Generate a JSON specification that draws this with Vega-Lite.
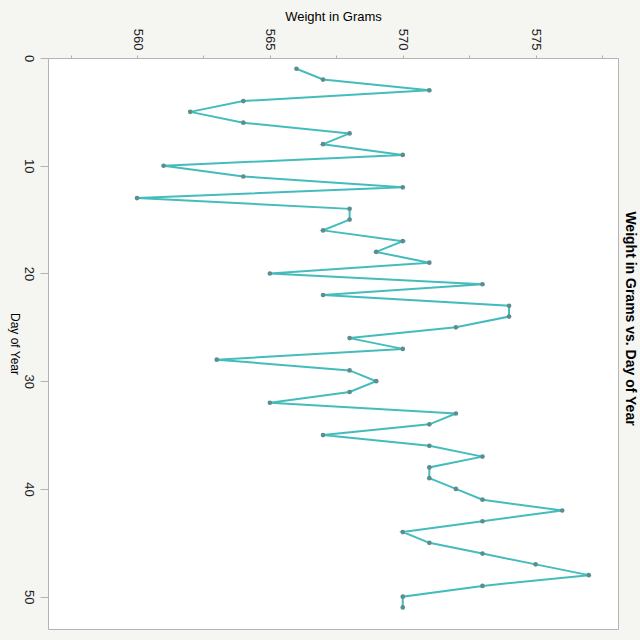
{
  "$schema": "https://vega.github.io/schema/vega-lite/v6.json",
  "autosize": {"type": "none"},
  "padding": {"left": 48, "top": 58, "right": 22, "bottom": 11},
  "width": 570,
  "height": 571,
  "background": "#f5f5f2",
  "title": {"text": "Weight in Grams vs. Day of Year", "orient": "right", "angle": 90, "anchor": "middle", "fontSize": 14, "fontWeight": "bold", "font": "Liberation Sans", "color": "#000000", "offset": 5, "dx": -25},
  "config": {
    "font": "Liberation Sans",
    "view": {"fill": "#ffffff", "stroke": "#b4b4b4", "strokeWidth": 1}
  },
  "data": {"values": [
    {"day": 1, "weight": 566}, {"day": 2, "weight": 567}, {"day": 3, "weight": 571},
    {"day": 4, "weight": 564}, {"day": 5, "weight": 562}, {"day": 6, "weight": 564},
    {"day": 7, "weight": 568}, {"day": 8, "weight": 567}, {"day": 9, "weight": 570},
    {"day": 10, "weight": 561}, {"day": 11, "weight": 564}, {"day": 12, "weight": 570},
    {"day": 13, "weight": 560}, {"day": 14, "weight": 568}, {"day": 15, "weight": 568},
    {"day": 16, "weight": 567}, {"day": 17, "weight": 570}, {"day": 18, "weight": 569},
    {"day": 19, "weight": 571}, {"day": 20, "weight": 565}, {"day": 21, "weight": 573},
    {"day": 22, "weight": 567}, {"day": 23, "weight": 574}, {"day": 24, "weight": 574},
    {"day": 25, "weight": 572}, {"day": 26, "weight": 568}, {"day": 27, "weight": 570},
    {"day": 28, "weight": 563}, {"day": 29, "weight": 568}, {"day": 30, "weight": 569},
    {"day": 31, "weight": 568}, {"day": 32, "weight": 565}, {"day": 33, "weight": 572},
    {"day": 34, "weight": 571}, {"day": 35, "weight": 567}, {"day": 36, "weight": 571},
    {"day": 37, "weight": 573}, {"day": 38, "weight": 571}, {"day": 39, "weight": 571},
    {"day": 40, "weight": 572}, {"day": 41, "weight": 573}, {"day": 42, "weight": 576},
    {"day": 43, "weight": 573}, {"day": 44, "weight": 570}, {"day": 45, "weight": 571},
    {"day": 46, "weight": 573}, {"day": 47, "weight": 575}, {"day": 48, "weight": 577},
    {"day": 49, "weight": 573}, {"day": 50, "weight": 570}, {"day": 51, "weight": 570}
  ]},
  "encoding": {
    "x": {"field": "weight", "type": "quantitative",
      "scale": {"domain": [556.65, 578.1], "nice": false, "zero": false},
      "axis": {"orient": "top", "title": "Weight in Grams", "grid": false,
        "values": [557.5, 560, 562.5, 565, 567.5, 570, 572.5, 575, 577.5],
        "labelExpr": "datum.value % 5 == 0 ? datum.label : ''",
        "labelAngle": 90, "labelAlign": "right", "labelBaseline": "middle",
        "labelFontSize": 13, "labelColor": "#222222", "labelPadding": 5,
        "tickSize": 3, "tickColor": "#b4b4b4", "domain": false,
        "titleFontSize": 13, "titleFontWeight": "normal", "titleColor": "#000000", "titlePadding": 5}},
    "y": {"field": "day", "type": "quantitative",
      "scale": {"domain": [0, 53], "nice": false, "zero": false, "reverse": true},
      "axis": {"orient": "left", "title": "Day of Year", "grid": false,
        "values": [0, 10, 20, 30, 40, 50],
        "labelAngle": 90, "labelAlign": "center", "labelBaseline": "top",
        "labelFontSize": 13, "labelColor": "#222222", "labelPadding": 6,
        "tickSize": 8, "tickColor": "#b4b4b4", "domain": false,
        "titleAngle": 90, "titleFontSize": 12, "titleFontWeight": "normal", "titleColor": "#000000", "titlePadding": 14}},
    "order": {"field": "day", "type": "quantitative"}
  },
  "layer": [
    {"mark": {"type": "line", "color": "#45bcbc", "strokeWidth": 2}},
    {"mark": {"type": "circle", "color": "#5c8e8e", "opacity": 1, "size": 22}}
  ]
}
